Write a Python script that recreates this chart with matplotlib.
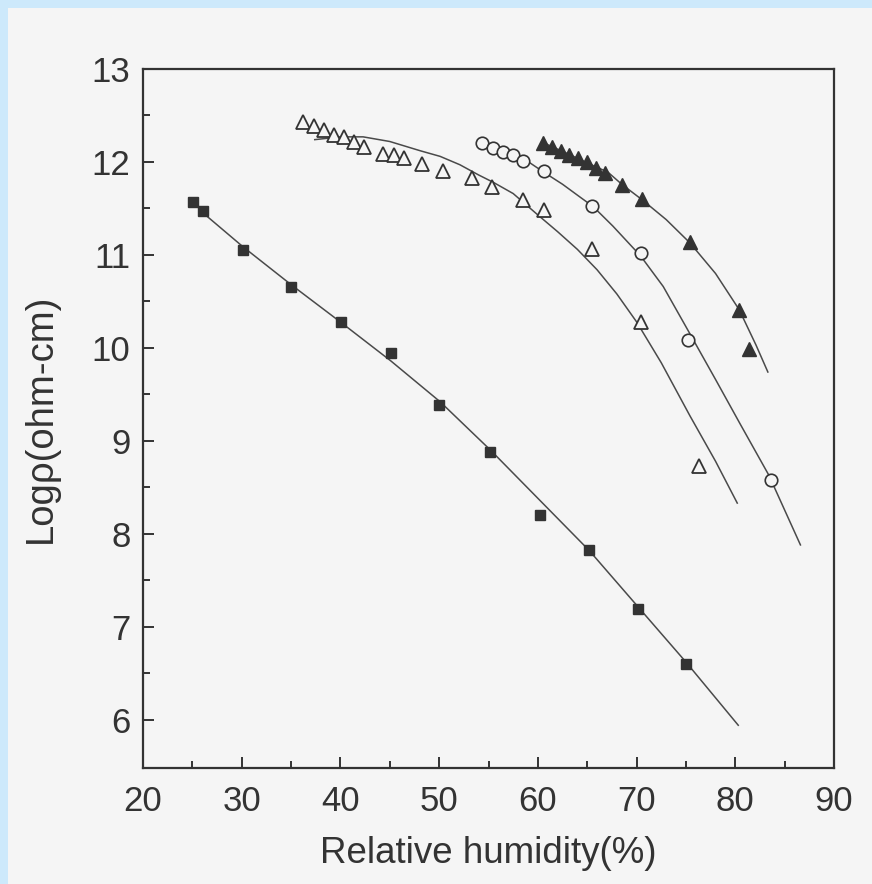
import matplotlib
matplotlib.use('Agg')
import matplotlib.pyplot as plt
from matplotlib.patches import Rectangle
from matplotlib.ticker import MultipleLocator, FixedLocator

#---    Data
# filled squares
sq_x = [25.1, 26.1, 30.1, 35.0, 40.1, 45.1, 50.0, 55.2, 60.2, 65.2, 70.1, 75.0]
sq_y = [11.57, 11.47, 11.05, 10.65, 10.28, 9.94, 9.39, 8.88, 8.20, 7.83, 7.19, 6.60]
sq_fit_x = [26.1, 30.1, 35.0, 40.1, 45.1, 50.1, 55.2, 60.2, 65.2, 70.1, 75.0, 80.3]
sq_fit_y = [11.45, 11.09, 10.68, 10.27, 9.86, 9.42, 8.90, 8.36, 7.82, 7.22, 6.62, 5.94]

# open triangles
ot_x = [36.2, 37.3, 38.3, 39.3, 40.4, 41.4, 42.4, 44.3, 45.4, 46.4, 48.3, 50.4,
        53.3, 55.4, 58.5, 60.6, 65.5, 70.4, 76.3]
ot_y = [12.43, 12.39, 12.34, 12.29, 12.27, 12.21, 12.16, 12.09, 12.07, 12.04, 11.98, 11.90,
        11.83, 11.73, 11.59, 11.48, 11.06, 10.28, 8.73]
ot_fit_x = [37.4, 40.0, 42.3, 45.0, 48.1, 50.1, 52.1, 54.0, 55.5, 57.5, 60.0, 62.0,
            64.0, 66.0, 68.0, 70.0, 72.5, 75.4, 78.0, 80.2]
ot_fit_y = [12.24, 12.27, 12.27, 12.22, 12.12, 12.06, 11.97, 11.86, 11.78, 11.66, 11.43, 11.25,
            11.06, 10.84, 10.58, 10.28, 9.84, 9.27, 8.78, 8.33]

# open circles
oc_x = [54.3, 55.5, 56.5, 57.5, 58.5, 60.6, 65.5, 70.4, 75.2, 83.6]
oc_y = [12.20, 12.15, 12.11, 12.08, 12.01, 11.90, 11.53, 11.02, 10.08, 8.58]
oc_fit_x = [57.5, 59.2, 60.6, 62.5, 64.3, 65.6, 67.6, 70.4, 72.7, 75.2, 78.0, 80.5, 83.4, 86.6]
oc_fit_y = [12.08, 11.99, 11.89, 11.76, 11.62, 11.52, 11.31, 10.99, 10.66, 10.19, 9.66, 9.18, 8.63, 7.88]

# filled triangles
ft_x = [60.5, 61.4, 62.3, 63.2, 64.1, 65.0, 65.9, 66.8, 68.5, 70.5, 75.4, 80.4, 81.4]
ft_y = [12.20, 12.16, 12.12, 12.08, 12.04, 12.00, 11.94, 11.88, 11.75, 11.60, 11.14, 10.41, 9.99]
ft_fit_x = [60.5, 63.0, 65.0, 67.1, 68.5, 70.6, 73.0, 75.4, 78.0, 80.4, 82.1, 83.3]
ft_fit_y = [12.21, 12.09, 11.99, 11.89, 11.76, 11.59, 11.38, 11.13, 10.80, 10.41, 10.03, 9.74]

x_ticks = [20, 30, 40, 50, 60, 70, 80, 90]
y_ticks = [6, 7, 8, 9, 10, 11, 12, 13]
y_minor = [6.5, 7.5, 8.5, 9.5, 10.5, 11.5, 12.5]

#---    Figure
plt.rcParams['font.family'] = ['Liberation Sans', 'DejaVu Sans']
fig = plt.figure(figsize=(8.72, 8.84), dpi=100, facecolor='#cde9fb')
bg = Rectangle((8 / 872, 0), 1, 1 - 8 / 884, transform=fig.transFigure,
               facecolor='#f5f5f5', edgecolor='none', zorder=-10)
fig.add_artist(bg)
ax = fig.add_axes([143 / 872, 1 - 768 / 884, (834 - 143) / 872, (768 - 69) / 884])
ax.set_facecolor('#f5f5f5')

line_c = '#4a4a4a'
mark_c = '#333333'

ax.plot(sq_fit_x, sq_fit_y, color=line_c, linewidth=1.1)
ax.plot(ot_fit_x, ot_fit_y, color=line_c, linewidth=1.1)
ax.plot(oc_fit_x, oc_fit_y, color=line_c, linewidth=1.1)
ax.plot(ft_fit_x, ft_fit_y, color=line_c, linewidth=1.1)

ax.plot(sq_x, sq_y, linestyle='none', marker='s', markersize=7.5,
        markerfacecolor=mark_c, markeredgecolor=mark_c)
ax.plot(ot_x, ot_y, linestyle='none', marker='^', markersize=10,
        markerfacecolor='#f5f5f5', markeredgecolor=mark_c, markeredgewidth=1.3)
ax.plot(oc_x, oc_y, linestyle='none', marker='o', markersize=9,
        markerfacecolor='#f5f5f5', markeredgecolor=mark_c, markeredgewidth=1.2)
ax.plot(ft_x, ft_y, linestyle='none', marker='^', markersize=10,
        markerfacecolor=mark_c, markeredgecolor=mark_c)

ax.set_xlim(20, 90)
ax.set_ylim(5.48, 13)
ax.set_xticks(x_ticks)
ax.set_yticks(y_ticks)
ax.xaxis.set_minor_locator(MultipleLocator(5))
ax.yaxis.set_minor_locator(FixedLocator(y_minor))
ax.tick_params(which='both', direction='in', color='#333333', width=1.4,
               top=False, right=False, labelsize=25, labelcolor='#333333')
ax.tick_params(which='major', length=8)
ax.tick_params(which='minor', length=5)
ax.tick_params(axis='x', pad=12)
ax.tick_params(axis='y', pad=9)
for s in ax.spines.values():
    s.set_linewidth(1.6)
    s.set_color('#333333')

ax.set_xlabel('Relative humidity(%)', fontsize=26.5, color='#333333', labelpad=13)
ax.set_ylabel('Log\u03c1(ohm-cm)', fontsize=27.5, color='#333333', labelpad=24)

plt.savefig('out.png', dpi=100, facecolor=fig.get_facecolor())
